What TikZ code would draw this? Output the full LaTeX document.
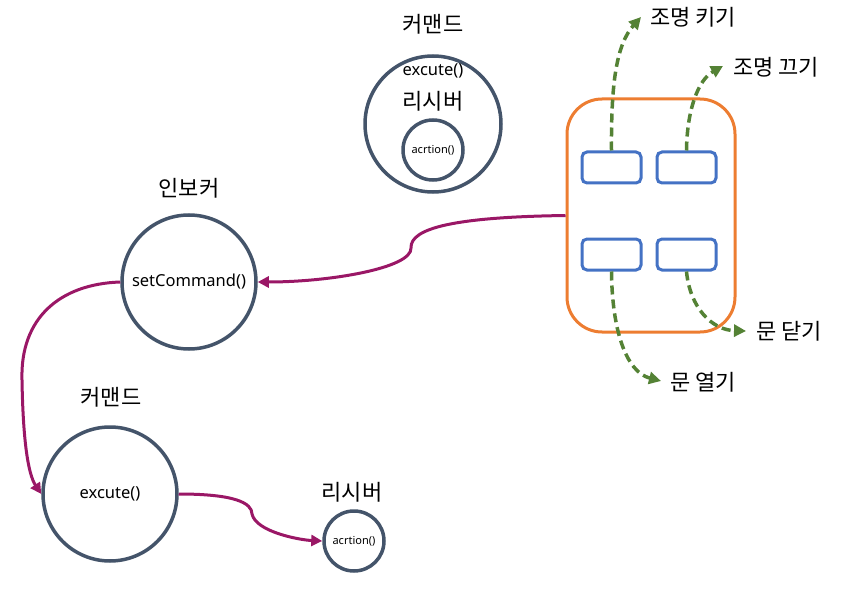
\documentclass[tikz,border=0pt]{standalone}
\usepackage{fontspec}
\setmainfont{Noto Sans}
\newfontfamily\kr{Noto Sans CJK KR}
\usetikzlibrary{arrows.meta}
\definecolor{slate}{HTML}{44546A}
\definecolor{btnblue}{HTML}{4472C4}
\definecolor{boxorange}{HTML}{ED7D31}
\definecolor{flowpurple}{HTML}{9A1766}
\definecolor{actgreen}{HTML}{548235}
\begin{document}
\begin{tikzpicture}[x=1pt,y=-1pt,
 circ/.style={circle, draw=slate, line width=3.5pt, inner sep=0pt},
 lbl/.style={font=\kr\fontsize{22}{25}\selectfont, inner sep=0pt},
 code/.style={font=\fontsize{16.5}{19}\selectfont, inner sep=0pt},
 small/.style={font=\fontsize{11}{13}\selectfont, inner sep=0pt},
 btn/.style={draw=btnblue, line width=3pt, rounded corners=5pt, minimum width=59pt, minimum height=31pt, inner sep=0pt},
 flow/.style={draw=flowpurple, line width=3pt, -{Triangle[length=11pt,width=11pt]}},
 act/.style={draw=actgreen, line width=3.5pt, dash pattern=on 9pt off 5pt, -{Triangle[length=12pt,width=12pt]}},
]
\useasboundingbox (0,0) rectangle (857,591);

% top composite
\node[circ, minimum size=136pt] (cmdtop) at (433,124) {};
\node[circ, small, minimum size=60pt] (rcvtop) at (433,150) {acrtion()};
\node[code] (exetop) at (433,71) {excute()};
\node[lbl] (rcvtoplbl) at (433,101) {리시버};
\node[lbl] (cmdtoplbl) at (433,24) {커맨드};

% invoker
\node[circ, code, minimum size=134pt] (inv) at (189,282) {setCommand()};
\node[lbl] (invlbl) at (189,188) {인보커};

% command
\node[circ, code, minimum size=134pt] (cmd) at (110,494) {excute()};
\node[lbl] (cmdlbl) at (111,397) {커맨드};

% receiver
\node[circ, small, minimum size=60pt] (rcv) at (354,541) {acrtion()};
\node[lbl] (rcvlbl) at (352,492) {리시버};

% client / remote
\node[draw=boxorange, line width=3pt, rounded corners=35pt, minimum width=168pt, minimum height=233pt, inner sep=0pt] (client) at (651,215.5) {};
\node[btn] (b1) at (611.5,167.5) {};
\node[btn] (b2) at (686.5,167.5) {};
\node[btn] (b3) at (611.5,254.5) {};
\node[btn] (b4) at (686.5,254.5) {};

% action labels
\node[lbl, anchor=west] (on) at (650,17) {조명 키기};
\node[lbl, anchor=west] (off) at (733,67) {조명 끄기};
\node[lbl, anchor=west] (close) at (756,331) {문 닫기};
\node[lbl, anchor=west] (open) at (670,382) {문 열기};
\coordinate (onend) at (641,17);
\coordinate (offend) at (723,66);
\coordinate (closeend) at (746,331);
\coordinate (openend) at (661,381);

% green dashed arrows
\draw[act] (b1.north) .. controls (611,85) and (616,45) .. (onend);
\draw[act] (b2.north) .. controls (687,110) and (698,80) .. (offend);
\draw[act] (b3.south) .. controls (612,330) and (626,372) .. (openend);
\draw[act] (b4.south) .. controls (690,308) and (712,330) .. (closeend);

% purple flows
\draw[flow] (client.west) .. controls (455,217) and (410,228) .. (411,248) .. controls (412,268) and (330,282) .. (inv.east);
\draw[flow] (inv.west) .. controls (60,284) and (20,318) .. (22,380) .. controls (23,440) and (28,474) .. (cmd.west);
\draw[flow] (cmd.east) .. controls (235,494) and (252,503) .. (252,514) .. controls (256,532) and (300,540) .. (rcv.west);
\end{tikzpicture}
\end{document}
